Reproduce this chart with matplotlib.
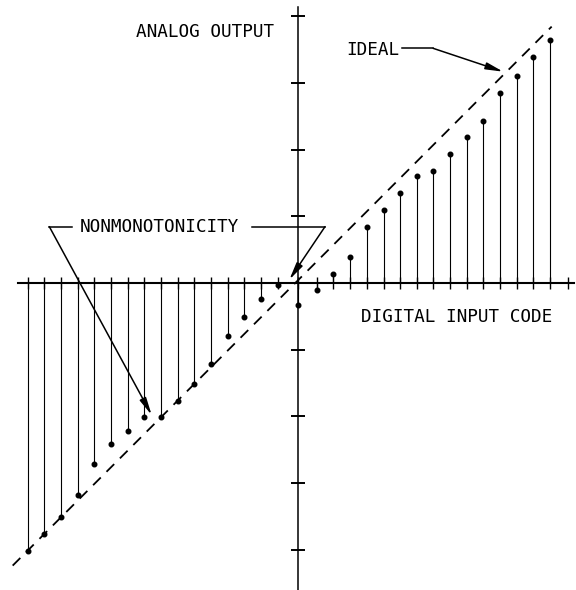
import matplotlib
matplotlib.use("Agg")
import matplotlib.pyplot as plt

# DAC transfer characteristic: digital input codes and measured analog output (LSB)
codes_neg = [-16.2, -15.2, -14.2, -13.2, -12.2, -11.2, -10.2, -9.2,
             -8.2, -7.2, -6.2, -5.2, -4.2, -3.2, -2.2, -1.2]
output_neg = [-16.08, -15.06, -14.02, -12.72, -10.86, -9.68, -8.86, -8.02,
              -8.06, -7.06, -6.06, -4.84, -3.18, -2.02, -0.98, -0.12]
code_zero = [0.0]
output_zero = [-1.3]
codes_pos = [1.18, 2.14, 3.14, 4.18, 5.18, 6.14, 7.14, 8.13,
             9.14, 10.14, 11.13, 12.14, 13.14, 14.13, 15.13]
output_pos = [-0.42, 0.54, 1.54, 3.38, 4.38, 5.42, 6.42, 6.72,
              7.72, 8.74, 9.74, 11.42, 12.42, 13.58, 14.58]

codes = codes_neg + code_zero + codes_pos
output = output_neg + output_zero + output_pos

# ideal transfer line: output = code + offset
ideal_span = [-17.1, 15.24]
ideal_offset = 0.144

# output axis tick positions (LSB)
y_ticks = [-16, -12, -8, -4, 4, 8, 12, 16]
x_end_tick = 16.2

fig = plt.figure(figsize=(5.76, 5.90), dpi=100)
ax = fig.add_axes([0, 0, 1, 1])
ax.set_xlim(-17.86, 16.70)
ax.set_ylim(-18.42, 16.98)

mono = "DejaVu Sans Mono"
ink = "black"

# axes crossing at the origin
for side in ("top", "right"):
    ax.spines[side].set_visible(False)
ax.spines["left"].set_position(("data", 0))
ax.spines["bottom"].set_position(("data", 0))
ax.spines["left"].set_bounds(-18.5, 16.56)
ax.spines["bottom"].set_bounds(-16.78, 16.58)
ax.spines["left"].set_linewidth(1.1)
ax.spines["bottom"].set_linewidth(1.5)
ax.set_xticks(codes + [x_end_tick])
ax.set_yticks(y_ticks)
ax.tick_params(axis="x", direction="inout", length=8.5, width=1.0,
               labelbottom=False)
ax.tick_params(axis="y", direction="inout", length=10, width=1.4,
               labelleft=False)
ax.patch.set_visible(False)

# stems
ax.vlines(codes, 0, output, colors=ink, linewidth=0.8, zorder=3)
ax.plot(codes, output, "o", color=ink, markersize=3.3, zorder=4)

# ideal line
ax.plot(ideal_span, [v + ideal_offset for v in ideal_span], color=ink,
        linewidth=1.3, dashes=(6, 4.5), zorder=2)

# labels
fs = 12.7
ax.text(-9.70, 15.08, "ANALOG OUTPUT", family=mono, fontsize=fs,
        ha="left", va="center")
ax.text(3.78, -2.02, "DIGITAL INPUT CODE", family=mono, fontsize=fs,
        ha="left", va="center")
ax.text(2.94, 13.98, "IDEAL", family=mono, fontsize=fs,
        ha="left", va="center")
ax.text(-13.10, 3.34, "NONMONOTONICITY", family=mono, fontsize=fs,
        ha="left", va="center")

arrow = dict(arrowstyle="-|>,head_length=0.8,head_width=0.16",
             color=ink, lw=1.1, shrinkA=0, shrinkB=0, mutation_scale=13)

# IDEAL callout
ax.plot([6.24, 8.13], [14.08, 14.08], color=ink, lw=1.1)
ax.annotate("", xy=(12.33, 12.68), xytext=(8.13, 14.08), arrowprops=arrow)

# NONMONOTONICITY callouts
ax.plot([-13.56, -14.90], [3.38, 3.38], color=ink, lw=1.1)
ax.annotate("", xy=(-8.76, -7.92), xytext=(-14.90, 3.38), arrowprops=arrow)
ax.plot([-2.76, 1.64], [3.38, 3.38], color=ink, lw=1.1)
ax.annotate("", xy=(-0.50, 0.20), xytext=(1.64, 3.38), arrowprops=arrow)

fig.savefig("out.png", dpi=100)
